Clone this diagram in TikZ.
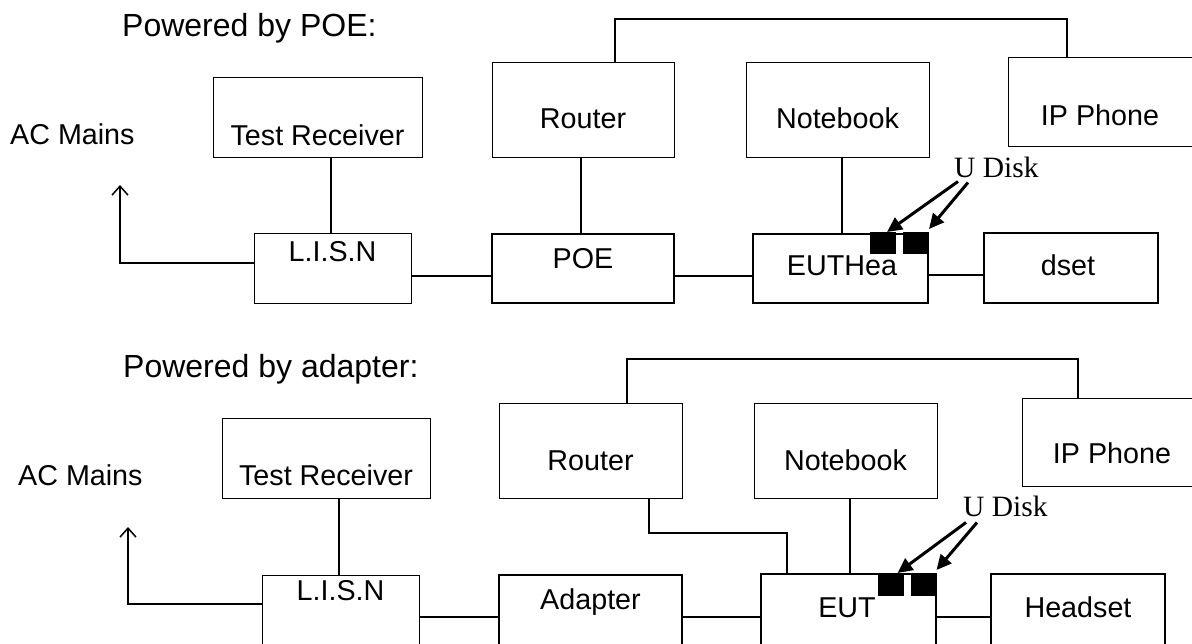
\documentclass[tikz,border=0pt]{standalone}
\usepackage{fontspec}
\setmainfont{Liberation Sans}
\newfontfamily\udiskfont{Liberation Serif}
\usetikzlibrary{arrows.meta}
\tikzstyle{box} = [draw, rectangle, inner sep=0pt, outer sep=0pt, line width=1pt]
\tikzstyle{heavybox} = [box, line width=2pt]
\tikzstyle{lbl} = [anchor=base, inner sep=0pt, font=\fontsize{28.7}{34}\selectfont]
\tikzstyle{heading} = [anchor=base west, inner sep=0pt, font=\fontsize{32}{38}\selectfont]
\tikzstyle{udisk} = [anchor=base west, inner sep=0pt, font=\udiskfont\fontsize{29.5}{33}\selectfont]
\tikzstyle{wire} = [line width=1.5pt]
\tikzstyle{mains} = [line width=1.5pt, -{Straight Barb[length=9pt,width=16pt]}]
\tikzstyle{usbarrow} = [line width=3pt, -{Triangle[length=15pt,width=14pt]}]
\tikzstyle{usbport} = [fill=black, inner sep=0pt, outer sep=0pt, minimum width=26pt, minimum height=22pt]
\begin{document}
\begin{tikzpicture}[x=1pt, y=-1pt]
    \useasboundingbox (0,0) rectangle (1192,643);
    \clip (0,0) rectangle (1192,643);

    % Powered by POE
    \node[heading] (head1) at (122,36) {Powered by POE:};
    \node[heading, font=\fontsize{28.7}{34}\selectfont] (ac1) at (10,144) {AC Mains};

    \node[box, minimum width=209pt, minimum height=80pt] (tr1) at (317.5,117) {};
    \node[lbl] (tr1txt) at (317.5,145) {Test Receiver};
    \node[box, minimum width=157pt, minimum height=70pt] (lisn1) at (332.5,268) {};
    \node[lbl] (lisn1txt) at (332.5,261) {L.I.S.N};
    \node[box, minimum width=182pt, minimum height=95pt] (router1) at (583,109.5) {};
    \node[lbl] (router1txt) at (583,128) {Router};
    \node[box, minimum width=183pt, minimum height=95pt] (note1) at (837.5,109.5) {};
    \node[lbl] (note1txt) at (837.5,128) {Notebook};
    \node[box, minimum width=192pt, minimum height=89pt] (ip1) at (1104,101.5) {};
    \node[lbl] (ip1txt) at (1100,125) {IP Phone};
    \node[heavybox, minimum width=182pt, minimum height=69pt] (poe1) at (583,268.5) {};
    \node[lbl] (poe1txt) at (583,268) {POE};
    \node[heavybox, minimum width=175pt, minimum height=69pt] (eut1) at (840.5,268.5) {};
    \node[lbl] (eut1txt) at (842,275) {EUTHea};
    \node[heavybox, minimum width=174pt, minimum height=70pt] (dset1) at (1071,268) {};
    \node[lbl] (dset1txt) at (1068,275) {dset};
    \node[usbport] (port1a) at (883,243) {};
    \node[usbport] (port1b) at (916,243) {};
    \node[udisk] (ud1) at (954,177) {U Disk};

    \draw[wire] (615,0 |- router1.north) -- (615,19) -- (1067,19) -- (1067,0 |- ip1.north);
    \draw[wire] (581,0 |- router1.south) -- (581,0 |- poe1.north);
    \draw[wire] (842,0 |- note1.south) -- (842,0 |- eut1.north);
    \draw[wire] (331,0 |- tr1.south) -- (331,0 |- lisn1.north);
    \draw[wire] (lisn1.east |- 0,276) -- (poe1.west |- 0,276);
    \draw[wire] (poe1.east |- 0,276) -- (eut1.west |- 0,276);
    \draw[wire] (eut1.east |- 0,275) -- (dset1.west |- 0,275);
    \draw[mains] (lisn1.west |- 0,263) -- (120,263) -- (120,185);
    \draw[usbarrow] ([xshift=4pt,yshift=-4pt]ud1.south west) -- ([xshift=-9pt]port1a.north east);
    \draw[usbarrow] ([xshift=14pt,yshift=-5pt]ud1.south west) -- ([yshift=3pt]port1b.north east);

    % Powered by adapter
    \node[heading] (head2) at (123,377) {Powered by adapter:};
    \node[heading, font=\fontsize{28.7}{34}\selectfont] (ac2) at (18,485) {AC Mains};

    \node[box, minimum width=208pt, minimum height=80pt] (tr2) at (326,458) {};
    \node[lbl] (tr2txt) at (326,485) {Test Receiver};
    \node[box, minimum width=157pt, minimum height=72pt] (lisn2) at (340.5,611) {};
    \node[lbl] (lisn2txt) at (340.5,600) {L.I.S.N};
    \node[box, minimum width=183pt, minimum height=95pt] (router2) at (590.5,450.5) {};
    \node[lbl] (router2txt) at (590.5,470) {Router};
    \node[box, minimum width=183pt, minimum height=95pt] (note2) at (845.5,450.5) {};
    \node[lbl] (note2txt) at (845.5,470) {Notebook};
    \node[box, minimum width=178pt, minimum height=88pt] (ip2) at (1111,442) {};
    \node[lbl] (ip2txt) at (1112,463) {IP Phone};
    \node[heavybox, minimum width=183pt, minimum height=72pt] (adapt2) at (590.5,611) {};
    \node[lbl] (adapt2txt) at (590.5,609) {Adapter};
    \node[heavybox, minimum width=175pt, minimum height=72pt] (eut2) at (848.5,610) {};
    \node[lbl] (eut2txt) at (847,617) {EUT};
    \node[heavybox, minimum width=174pt, minimum height=72pt] (headset2) at (1078,610) {};
    \node[lbl] (headset2txt) at (1078,617) {Headset};
    \node[usbport, minimum height=23pt] (port2a) at (890.5,584.5) {};
    \node[usbport, minimum height=23pt] (port2b) at (923.5,584.5) {};
    \node[udisk] (ud2) at (963,516) {U Disk};

    \draw[wire] (627,0 |- router2.north) -- (627,359) -- (1078,359) -- (1078,0 |- ip2.north);
    \draw[wire] (649,0 |- router2.south) -- (649,533) -- (787,533) -- (787,0 |- eut2.north);
    \draw[wire] (850,0 |- note2.south) -- (850,0 |- eut2.north);
    \draw[wire] (339,0 |- tr2.south) -- (339,0 |- lisn2.north);
    \draw[wire] (lisn2.east |- 0,617) -- (adapt2.west |- 0,617);
    \draw[wire] (adapt2.east |- 0,617) -- (eut2.west |- 0,617);
    \draw[wire] (eut2.east |- 0,617) -- (headset2.west |- 0,617);
    \draw[mains] (lisn2.west |- 0,604) -- (128,604) -- (128,527);
    \draw[usbarrow] ([xshift=3pt,yshift=-6pt]ud2.south west) -- ([xshift=-6pt]port2a.north east);
    \draw[usbarrow] ([xshift=14pt,yshift=-6pt]ud2.south west) -- ([yshift=3pt]port2b.north east);
\end{tikzpicture}
\end{document}
